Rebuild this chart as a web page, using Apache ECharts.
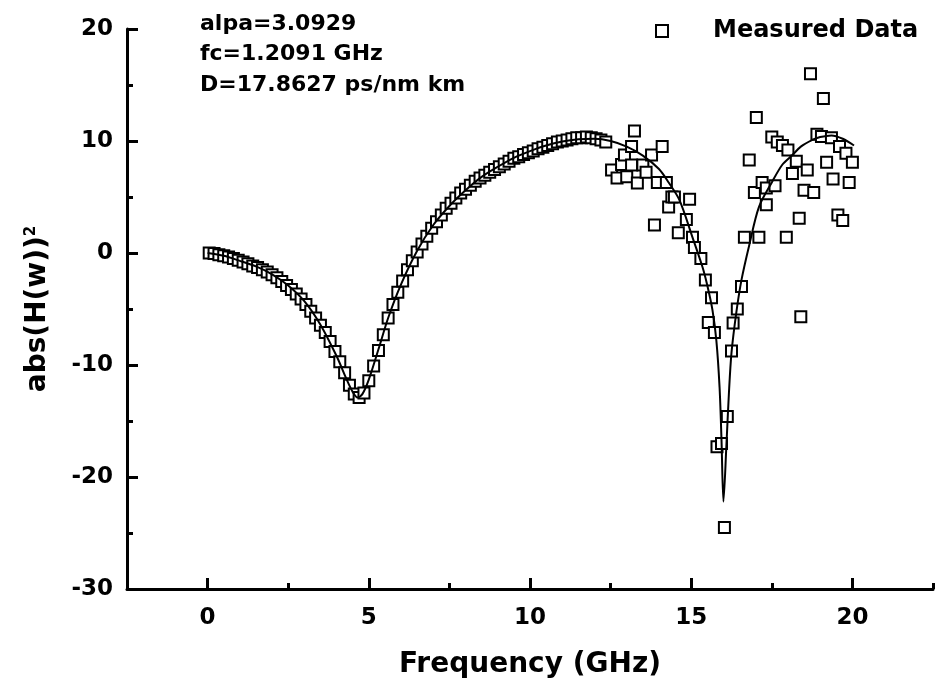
<!DOCTYPE html>
<html>
<head>
<meta charset="utf-8">
<script src="https://cdn.jsdelivr.net/npm/echarts@6/dist/echarts.min.js"></script>
<style>
html,body{margin:0;padding:0;background:#fff;}
#chart{width:936px;height:697px;}
</style>
</head>
<body>
<div id="chart"></div>
<script>
// Measured data: frequency (GHz) and response (dB)
const measuredFreq = [
  0.05,0.2,0.35,0.5,0.65,0.8,0.95,1.1,1.25,1.4,1.55,1.7,1.85,2.0,2.15,2.3,2.45,2.6,2.75,2.9,
  3.05,3.2,3.35,3.5,3.65,3.8,3.95,4.1,4.25,4.4,4.55,4.7,4.85,5.0,5.15,5.3,5.45,5.6,5.75,5.9,
  6.05,6.2,6.35,6.5,6.65,6.8,6.95,7.1,7.25,7.4,7.55,7.7,7.85,8.0,8.15,8.3,8.45,8.6,8.75,8.9,
  9.05,9.2,9.35,9.5,9.65,9.8,9.95,10.1,10.25,10.4,10.55,10.7,10.85,11.0,11.15,11.3,11.45,11.6,11.75,11.9,
  12.05,12.2,12.35,
  12.53,12.7,12.84,12.93,13.0,13.15,13.15,13.24,13.33,13.5,13.6,13.77,13.86,13.95,14.1,14.23,14.3,14.4,14.48,14.6,
  14.85,14.95,15.04,15.1,15.3,15.44,15.53,15.63,15.72,15.8,15.94,16.03,16.12,16.25,16.3,16.43,16.56,16.65,16.8,16.96,
  17.02,17.1,17.2,17.33,17.33,17.5,17.6,17.67,17.83,17.95,18.0,18.14,18.26,18.35,18.4,18.5,18.6,18.7,18.8,18.9,
  19.04,19.1,19.2,19.35,19.4,19.55,19.6,19.7,19.8,19.9,20.0
];
const measuredDb = [
  0.0,-0.05,-0.15,-0.25,-0.35,-0.5,-0.65,-0.8,-0.95,-1.15,-1.3,-1.5,-1.7,-1.95,-2.2,-2.55,-2.9,-3.25,-3.65,-4.1,
  -4.6,-5.2,-5.8,-6.45,-7.1,-7.9,-8.8,-9.7,-10.7,-11.8,-12.6,-12.9,-12.5,-11.4,-10.1,-8.7,-7.3,-5.8,-4.6,-3.5,
  -2.5,-1.5,-0.7,0.1,0.8,1.5,2.2,2.8,3.4,4.0,4.45,4.9,5.35,5.7,6.05,6.4,6.7,6.95,7.2,7.45,
  7.7,7.95,8.2,8.45,8.6,8.8,8.95,9.1,9.3,9.45,9.6,9.75,9.9,10.0,10.1,10.2,10.3,10.3,10.35,10.3,
  10.2,10.1,9.9,
  7.4,6.7,7.9,8.75,6.8,9.5,7.85,10.9,6.25,7.85,7.2,8.75,2.5,6.3,9.5,6.3,4.1,5.0,5.0,1.8,
  3.0,4.8,1.4,0.5,-0.5,-2.4,-6.2,-4.0,-7.1,-17.3,-17.0,-24.5,-14.6,-8.75,-6.25,-5.0,-3.0,1.4,8.3,5.4,
  12.1,1.4,6.3,5.8,4.3,10.35,6.0,9.9,9.6,1.4,9.2,7.1,8.2,3.1,-5.7,5.6,7.4,16.0,5.4,10.6,
  10.4,13.8,8.1,10.3,6.6,3.4,9.5,2.9,8.9,6.3,8.1
];
// Fitted curve
const fitFreq = [0,0.5,1,1.5,2,2.5,3,3.5,4,4.3,4.5,4.65,4.8,5.0,5.3,5.6,6.0,6.5,7.0,7.5,8.0,8.5,9.0,9.5,10.0,10.5,11.0,11.5,12.0,12.5,13.0,13.5,14.0,14.3,14.64,15.04,15.35,15.5,15.66,15.78,15.88,15.94,16.0,16.09,16.17,16.25,16.4,16.56,16.8,17.1,17.5,17.83,18.14,18.4,18.76,19.0,19.35,19.7,20.05];
const fitDb = [0,-0.25,-0.7,-1.2,-1.9,-2.9,-4.3,-6.4,-9.2,-11.2,-12.4,-12.9,-12.6,-11.3,-8.6,-5.8,-2.8,0.2,2.5,4.2,5.6,6.8,7.7,8.5,9.1,9.6,9.95,10.15,10.2,10.0,9.5,8.7,7.5,6.3,4.7,1.4,-1.25,-2.9,-5.1,-7.8,-12.0,-16.7,-22.2,-17.3,-12.5,-8.9,-5.3,-2.4,0.7,4.1,6.3,7.9,8.75,9.5,10.1,10.35,10.5,10.2,9.6];

const xMajorTicks = [0,5,10,15,20];
const xMinorTicks = [2.5,7.5,12.5,17.5,22.5];
const annotations = ['alpa=3.0929','fc=1.2091 GHz','D=17.8627 ps/nm km'];
const seriesName = 'Measured Data';

const FONT = '"DejaVu Sans", sans-serif';
const measured = measuredFreq.map((f,i)=>[f, measuredDb[i]]);
const fit = fitFreq.map((f,i)=>[f, fitDb[i]]);

const chart = echarts.init(document.getElementById('chart'), null, {renderer:'canvas'});
const option = {
  animation:false,
  backgroundColor:'#fff',
  grid:{left:127, right:3, top:29, bottom:108},
  xAxis:[{
    type:'value', min:-2.5, max:22.5, interval:2.5,
    axisLine:{show:true, onZero:false, lineStyle:{color:'#000', width:3}},
    axisTick:{show:true, inside:true, length:11, customValues:xMajorTicks, lineStyle:{color:'#000', width:3}},
    axisLabel:{customValues:xMajorTicks, margin:18, color:'#000', fontFamily:FONT, fontWeight:'bold', fontSize:23},
    splitLine:{show:false},
    name:'Frequency (GHz)', nameLocation:'middle', nameGap:62,
    nameTextStyle:{color:'#000', fontFamily:FONT, fontWeight:'bold', fontSize:28}
  },{
    type:'value', min:-2.5, max:22.5, interval:2.5, position:'bottom',
    axisLine:{show:false, onZero:false},
    axisTick:{show:true, inside:true, length:6, customValues:xMinorTicks, lineStyle:{color:'#000', width:3}},
    axisLabel:{show:false},
    splitLine:{show:false}
  }],
  yAxis:{
    type:'value', min:-30, max:20, interval:10,
    axisLine:{show:true, onZero:false, lineStyle:{color:'#000', width:3}},
    axisTick:{show:true, inside:true, length:11, lineStyle:{color:'#000', width:3}},
    minorTick:{show:true, splitNumber:2, length:6, lineStyle:{color:'#000', width:3}},
    axisLabel:{margin:14, color:'#000', fontFamily:FONT, fontWeight:'bold', fontSize:23},
    splitLine:{show:false},
    name:'{a|abs(H(w))}{s|2}', nameLocation:'middle', nameRotate:90, nameGap:75,
    nameTextStyle:{color:'#000', rich:{
      a:{fontFamily:FONT, fontWeight:'bold', fontSize:28, color:'#000'},
      s:{fontFamily:FONT, fontWeight:'bold', fontSize:15, color:'#000', verticalAlign:'top'}
    }}
  },
  legend:{
    left:650, top:14, itemWidth:12, itemHeight:12,
    data:[{name:seriesName, icon:'rect', itemStyle:{color:'#fff', borderColor:'#000', borderWidth:2}}],
    textStyle:{color:'#000', fontFamily:FONT, fontWeight:'bold', fontSize:24, padding:[0,0,0,40]}
  },
  graphic: annotations.map((t,i)=>({
    type:'text', x:200, y:24 + i*30.5,
    style:{text:t, font:'bold 22px "DejaVu Sans"', fill:'#000', verticalAlign:'middle'}
  })),
  series:[{
    name:seriesName, type:'scatter', data:measured,
    symbol:'rect', symbolSize:11,
    itemStyle:{color:'#fff', borderColor:'#000', borderWidth:2, opacity:1}
  },{
    name:'fit', type:'line', data:fit, smooth:0.3, showSymbol:false, symbol:'none',
    lineStyle:{color:'#000', width:2}, z:5
  }]
};
chart.setOption(option);
</script>
</body>
</html>
